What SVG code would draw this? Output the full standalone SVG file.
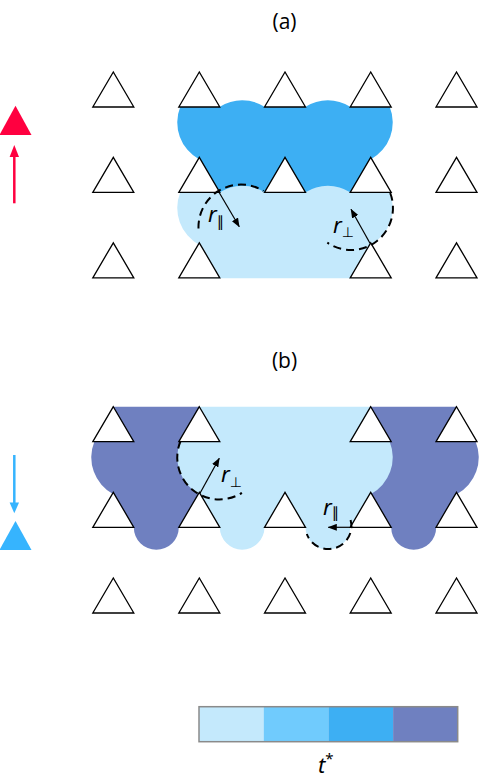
<svg xmlns="http://www.w3.org/2000/svg" width="489" height="782" viewBox="0 0 489 782">
<style>
.tri{fill:#fff;stroke:#000;stroke-width:1.3;stroke-linejoin:miter}
.dash{fill:none;stroke:#000;stroke-width:2;stroke-dasharray:8 5}
.arr{fill:none;stroke:#000;stroke-width:1.2;marker-end:url(#ah)}
.lbl{font-family:"Noto Sans","DejaVu Sans",sans-serif;font-size:22px;font-style:italic;fill:#000}
.sub{font-family:"DejaVu Sans",sans-serif;font-style:normal;fill:#000}
.ttl{font-family:"Open Sans","Noto Sans",sans-serif;font-size:21px;fill:#000;text-anchor:middle}
.c1{fill:#c4e9fc}.c2{fill:#70cbfd}.c3{fill:#3daff3}.c4{fill:#6f80c0}
</style>
<defs>
<path id="t" class="tri" d="M0,0 L-20.5,35 L20.5,35 Z"/>
<marker id="ah" markerUnits="userSpaceOnUse" markerWidth="9" markerHeight="7" refX="8.5" refY="3.5" orient="auto">
<path d="M0,0 L9,3.5 L0,7 Z" fill="#000"/>
</marker>
</defs>
<rect width="489" height="782" fill="#fff"/>

<g id="title-a"><text class="ttl" x="284.5" y="29">(a)</text></g>
<g id="title-b"><text class="ttl" x="284.5" y="368">(b)</text></g>

<g id="region-a-dark">
<path class="c3" d="M180.3,106.8 L219.8,106.8 A41,41 0 0 1 264.5,106.8 L305.5,106.8 A41,41 0 0 1 350.2,106.8 L389.7,106.8 A42,42 0 0 1 370.7,159.4 L370.7,192.3 L199.3,192.3 L199.3,159.4 A42,42 0 0 1 180.3,106.8 Z"/>
</g>
<g id="region-a-light">
<path class="c1" d="M180.3,192.3 L219.8,192.3 A41,41 0 0 1 264.5,192.3 L305.5,192.3 A41,41 0 0 1 350.2,192.3 L389.7,192.3 A42,42 0 0 1 370.7,244.9 L370.7,278.3 L199.3,278.3 L199.3,244.9 A42,42 0 0 1 180.3,192.3 Z"/>
</g>
<g id="region-b-purple">
<path class="c4" d="M113.3,406.7 L199.3,406.7 L199.3,527.3 L178.8,527.3 A22.5,22.5 0 0 1 133.8,527.3 L113.3,527.3 L113.3,494.3 A42,42 0 0 1 94.3,441.7 L113.3,441.7 Z"/>
<path class="c4" d="M456.7,406.7 L370.7,406.7 L370.7,527.3 L391.2,527.3 A22.5,22.5 0 0 0 436.2,527.3 L456.7,527.3 L456.7,494.3 A42,42 0 0 0 475.7,441.7 L456.7,441.7 Z"/>
</g>
<g id="region-b-light">
<path class="c1" d="M199.3,406.7 L370.7,406.7 L370.7,441.7 L389.7,441.7 A42,42 0 0 1 370.7,494.3 L370.7,527.3 L350.2,527.3 A22.35,22.35 0 0 1 305.5,527.3 L264.5,527.3 A22.35,22.35 0 0 1 219.8,527.3 L199.3,527.3 L199.3,494.3 A42,42 0 0 1 180.3,441.7 L199.3,441.7 Z"/>
</g>

<g id="lattice-a">
<use href="#t" x="113.3" y="72"/><use href="#t" x="199.3" y="72"/><use href="#t" x="285" y="72"/><use href="#t" x="370.7" y="72"/><use href="#t" x="456.5" y="72"/>
<use href="#t" x="113.3" y="157.3"/><use href="#t" x="199.3" y="157.3"/><use href="#t" x="285" y="157.3"/><use href="#t" x="370.7" y="157.3"/><use href="#t" x="456.5" y="157.3"/>
<use href="#t" x="113.3" y="242.8"/><use href="#t" x="199.3" y="242.8"/><use href="#t" x="370.7" y="242.8"/><use href="#t" x="456.5" y="242.8"/>
</g>
<g id="lattice-b">
<use href="#t" x="113.3" y="406.7"/><use href="#t" x="199.3" y="406.7"/><use href="#t" x="370.7" y="406.7"/><use href="#t" x="456.5" y="406.7"/>
<use href="#t" x="113.3" y="492.3"/><use href="#t" x="199.3" y="492.3"/><use href="#t" x="285" y="492.3"/><use href="#t" x="370.7" y="492.3"/><use href="#t" x="456.5" y="492.3"/>
<use href="#t" x="113.3" y="578"/><use href="#t" x="199.3" y="578"/><use href="#t" x="285" y="578"/><use href="#t" x="370.7" y="578"/><use href="#t" x="456.5" y="578"/>
</g>

<g id="connectors">
<path class="dash" d="M198.5,228.5 A42.5,42.5 0 0 1 263.5,191"/>
<path class="dash" d="M390.2,193 A42,42 0 0 1 327.3,242.7"/>
<path class="dash" d="M180.6,441 A42,42 0 0 0 241.9,492.8"/>
<path class="dash" d="M350.6,520.1 A23,23 0 0 1 306.8,534"/>
<line class="arr" x1="219.3" y1="192.7" x2="239.3" y2="226.7"/>
<line class="arr" x1="370" y1="243.3" x2="351" y2="209.3"/>
<line class="arr" x1="200" y1="493.3" x2="219.3" y2="458.3"/>
<line class="arr" x1="353.3" y1="527.3" x2="328.3" y2="527.3"/>
</g>

<g id="labels">
<text class="lbl" x="208" y="222">r<tspan class="sub" font-size="15" dy="5">∥</tspan></text>
<text class="lbl" x="333" y="233">r<tspan class="sub" font-size="14" dy="4">⊥</tspan></text>
<text class="lbl" x="221" y="482">r<tspan class="sub" font-size="14" dy="5">⊥</tspan></text>
<text class="lbl" x="323" y="515">r<tspan class="sub" font-size="15" dy="3">∥</tspan></text>
</g>

<g id="indicator-a">
<polygon points="15.5,105.7 -0.5,135 31.5,135" fill="#ff0040"/>
<line x1="14.3" y1="203.3" x2="14.3" y2="155" stroke="#ff0040" stroke-width="2.5"/>
<polygon points="14.3,145 9.6,157 19,157" fill="#ff0040"/>
</g>
<g id="indicator-b">
<line x1="14.3" y1="455" x2="14.3" y2="504" stroke="#36b4fe" stroke-width="2.5"/>
<polygon points="14.3,513.3 9.6,502.5 19,502.5" fill="#36b4fe"/>
<polygon points="15.5,521 -0.5,550 31.5,550" fill="#36b4fe"/>
</g>

<g id="colorbar">
<rect class="c1" x="199" y="706.7" width="64.7" height="35"/>
<rect class="c2" x="263.7" y="706.7" width="64.7" height="35"/>
<rect class="c3" x="328.4" y="706.7" width="64.7" height="35"/>
<rect class="c4" x="393.1" y="706.7" width="64.6" height="35"/>
<rect x="199" y="706.7" width="258.7" height="35" fill="none" stroke="#8a8a8a" stroke-width="1.5"/>
<text class="lbl" x="318" y="773">t<tspan font-style="normal" font-size="15" dy="-9">*</tspan></text>
</g>
</svg>
